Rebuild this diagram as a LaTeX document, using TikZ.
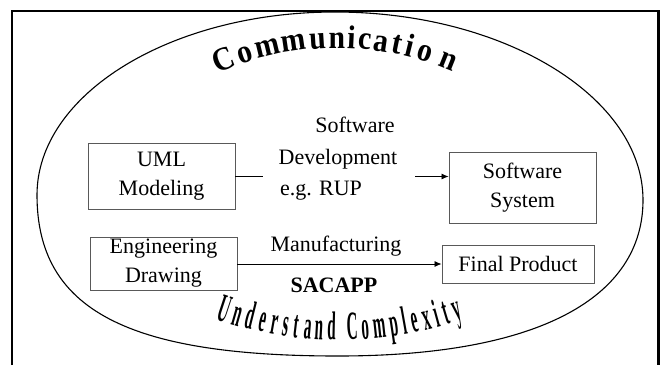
\documentclass[tikz,border=0pt]{standalone}
\usepackage{fontspec}
\setmainfont{Liberation Serif}
\newfontfamily\arcfont[FakeStretch=0.9]{Liberation Serif}
\newfontfamily\ucfont[FakeStretch=0.38]{Liberation Serif}
\usetikzlibrary{arrows.meta}
\begin{document}
\begin{tikzpicture}[x=1pt,y=-1pt,
  box/.style={draw=black!65, line width=0.9pt, inner sep=0pt, align=center,
    font=\fontsize{22}{29}\selectfont},
  lbl/.style={inner sep=0pt, anchor=base, font=\fontsize{22}{29}\selectfont},
  conn/.style={line width=0.8pt},
  arr/.style={conn, -{Latex[length=7pt,width=6pt]}},
  topch/.style={inner sep=0pt, anchor=base, font=\arcfont\bfseries\fontsize{33}{33}\selectfont},
  botch/.style={inner sep=0pt, anchor=base, font=\ucfont\bfseries\fontsize{40}{40}\selectfont}
]
\useasboundingbox (0,0) rectangle (661,365);
\fill[white] (0,0) rectangle (661,365);
\draw[line width=2.5pt] (12,365) -- (12,11) -- (658.5,11) -- (658.5,365);
% egg-shaped ellipse
\coordinate (eL) at (37,195);
\coordinate (eT) at (335,12);
\coordinate (eR) at (643,200);
\coordinate (eB) at (338,356);
\draw[line width=1.1pt] (eL) .. controls (37,94) and (171,12) .. (eT)
  .. controls (504,12) and (643,97) .. (eR)
  .. controls (643,297) and (540,356) .. (eB)
  .. controls (128,356) and (37,310) .. (eL) -- cycle;

% boxes
\node[box, minimum width=147pt, minimum height=66pt] (uml) at (161.5,176.5) {UML\\Modeling};
\node[box, minimum width=147pt, minimum height=71pt] (ss) at (522.5,187.5) {Software\\System};
\node[box, minimum width=147pt, minimum height=53pt] (eng) at (163.5,263.5) {Engineering\\Drawing};
\node[box, minimum width=152pt, minimum height=38pt] (fp) at (518,264) {Final Product};

% labels
\node[lbl] (sw) at (355,132) {Software};
\node[lbl] (dev) at (338,164) {Development};
\node[lbl] (eg) at (321,195) {e.g. RUP};
\node[lbl] (manu) at (336,251) {Manufacturing};
\node[lbl, font=\bfseries\fontsize{22}{29}\selectfont] (sac) at (334,292) {SACAPP};

% connectors
\coordinate (l1) at (263,176.5);
\coordinate (l2) at (415,176.5);
\draw[conn] (uml.east) -- (l1);
\draw[arr] (l2) -- (ss.west |- l2);
\draw[arr] (eng.east |- fp.west) -- (fp.west);

% curved texts
\foreach \c/\xx [count=\i] in {C/227, o/248, m/270, m/295, u/318, n/337, i/351, c/364, a/380, t/395, i/407, o/423, n/445} {
  \pgfmathsetmacro\th{asin((\xx-337)/290)}
  \pgfmathsetmacro\yy{48+290*(1-cos(\th))}
  \node[topch, rotate=-\th] (tc\i) at (\xx,\yy) {\c};
}
\foreach \c/\xx [count=\i] in {U/221, n/235, d/248, e/261, r/273, s/284, t/295, a/307, n/319, d/332, C/353, o/366, m/381, p/396, l/407, e/417, x/429, i/440, t/449, y/460} {
  \pgfmathsetmacro\th{asin((\xx-340)/380)}
  \pgfmathsetmacro\yy{340-380*(1-cos(\th))}
  \node[botch, rotate=\th] (bc\i) at (\xx,\yy) {\c};
}
\end{tikzpicture}
\end{document}
